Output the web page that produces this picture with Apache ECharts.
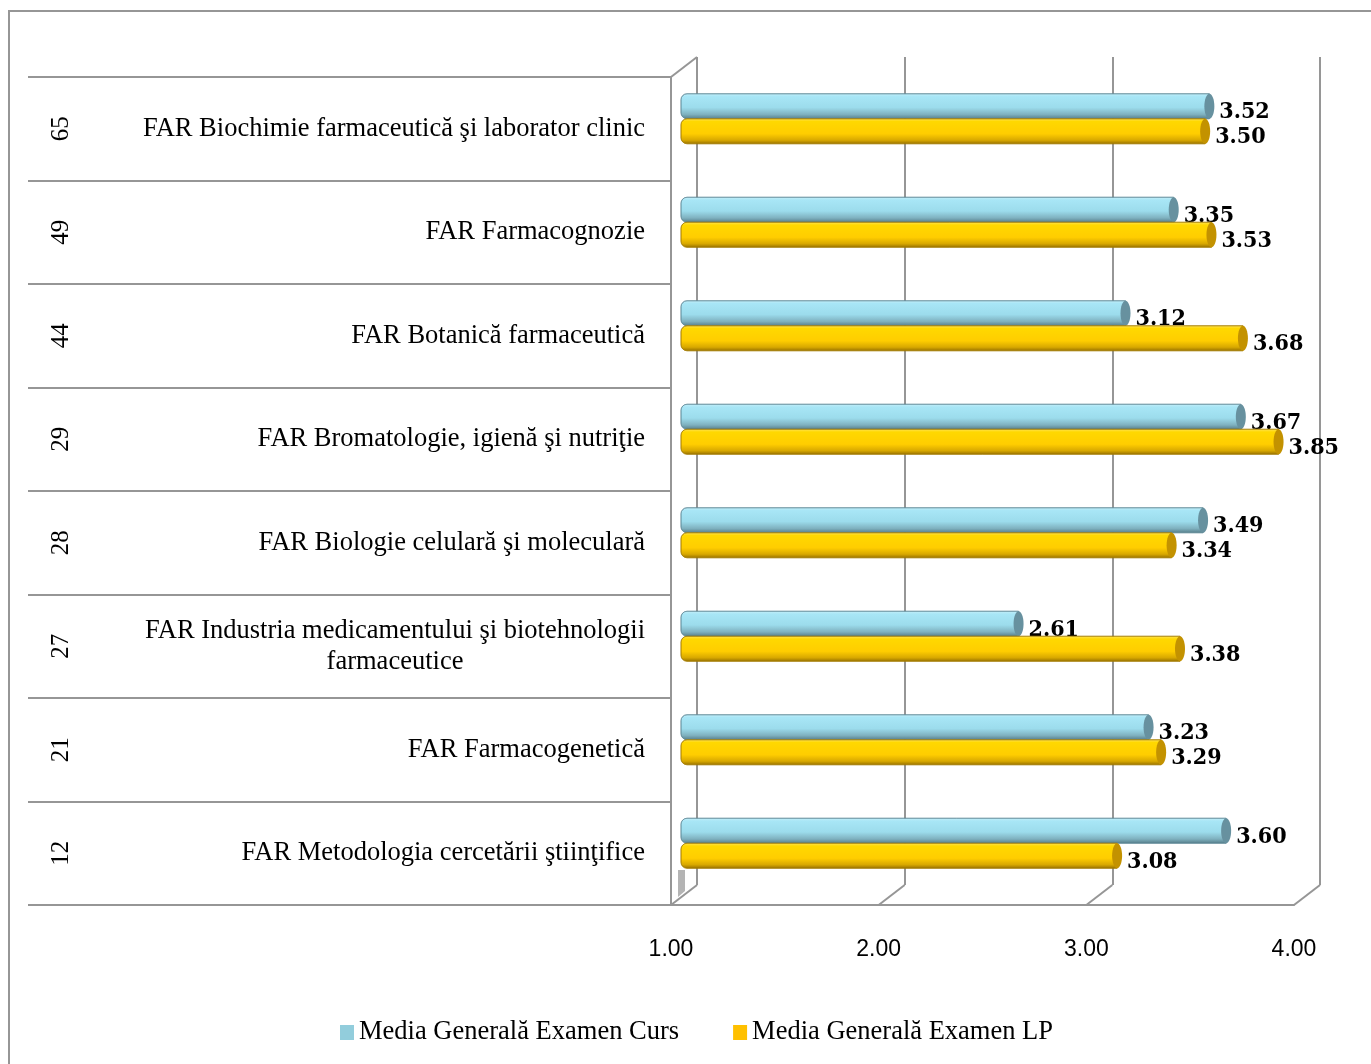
<!DOCTYPE html>
<html>
<head>
<meta charset="utf-8">
<script src="https://cdn.jsdelivr.net/npm/echarts@6/dist/echarts.min.js"></script>
<style>html,body{margin:0;padding:0;background:#fff;}#c{width:1371px;height:1064px;}</style>
</head>
<body>
<div id="c"></div>
<script>
const codes = ['65', '49', '44', '29', '28', '27', '21', '12'];
const subjects = [
  'FAR Biochimie farmaceutică şi laborator clinic',
  'FAR Farmacognozie',
  'FAR Botanică farmaceutică',
  'FAR Bromatologie, igienă şi nutriţie',
  'FAR Biologie celulară şi moleculară',
  'FAR Industria medicamentului şi biotehnologii\nfarmaceutice',
  'FAR Farmacogenetică',
  'FAR Metodologia cercetării ştiinţifice'
];
const mediaCurs = [3.52, 3.35, 3.12, 3.67, 3.49, 2.61, 3.23, 3.60];
const mediaLP = [3.50, 3.53, 3.68, 3.85, 3.34, 3.38, 3.29, 3.08];
const seriesNames = ['Media Generală Examen Curs', 'Media Generală Examen LP'];
const axisMin = 1, axisMax = 4, axisStep = 1;

const GRAY = '#969696';
const NAME_FONT_SIZE = 26.5;
const NAME_FONT = '"Liberation Serif", serif';
const palettes = [
  { legend: '#92CDDC', cap: '#67919f', edge: '#5d8795',
    stops: [[0, '#c6eff9'], [0.12, '#a8e6f6'], [0.55, '#9cdcec'], [0.82, '#7fb1bf'], [1, '#557c88']] },
  { legend: '#FFC000', cap: '#c39200', edge: '#a57c00',
    stops: [[0, '#ffe45a'], [0.12, '#ffd800'], [0.6, '#ffcd00'], [0.85, '#d8a800'], [1, '#967000']] }
];

function renderItem(params, api) {
  const s = params.seriesIndex;
  const v = api.value(0), i = api.value(1);
  const p0 = api.coord([axisMin, i]);
  const p1 = api.coord([v, i]);
  const h = 25;
  const cy = p1[1] + (s === 0 ? -h / 2 : h / 2);
  const x0 = p0[0], x1 = p1[0];
  const pal = palettes[s];
  return {
    type: 'group',
    children: [
      { type: 'rect', shape: { x: x0, y: cy - h / 2, width: x1 - x0, height: h, r: [6, 0, 0, 6] },
        style: { fill: { type: 'linear', x: 0, y: 0, x2: 0, y2: 1,
          colorStops: pal.stops.map(st => ({ offset: st[0], color: st[1] })) },
          stroke: pal.edge, lineWidth: 0.6 } },
      { type: 'ellipse', shape: { cx: x1, cy: cy, rx: 5, ry: h / 2 },
        style: { fill: pal.cap } },
      { type: 'text', style: { text: v.toFixed(2), x: x1 + 10, y: cy + 6, align: 'left', verticalAlign: 'middle',
        font: 'bold 23px "DejaVu Serif Condensed", "DejaVu Serif", serif', fill: '#000' } }
    ]
  };
}

// measure first line of multi-line labels so the block stays right-aligned while lines are centred
const measureCtx = document.createElement('canvas').getContext('2d');
measureCtx.font = NAME_FONT_SIZE + 'px ' + NAME_FONT;
const nameData = subjects.map(n => {
  if (n.indexOf('\n') < 0) return n;
  const w = Math.max.apply(null, n.split('\n').map(l => measureCtx.measureText(l).width));
  return { value: n, textStyle: { align: 'center', padding: [6, w, 0, 0], lineHeight: 31 } };
});

const chart = echarts.init(document.getElementById('c'), null, { renderer: 'canvas' });
const option = {
  animation: false,
  backgroundColor: '#fff',
  grid: [
    { left: 681, top: 67, width: 629, height: 828 },
    { left: 697, top: 57, width: 623, height: 828 },
    { left: 671, top: 77, width: 623, height: 828 }
  ],
  xAxis: [
    { type: 'value', gridIndex: 0, min: axisMin, max: axisMax, interval: axisStep, show: false },
    { type: 'value', gridIndex: 1, min: axisMin, max: axisMax, interval: axisStep,
      axisLine: { show: false }, axisTick: { show: false }, axisLabel: { show: false },
      splitLine: { show: true, lineStyle: { color: GRAY, width: 2 } } },
    { type: 'value', gridIndex: 2, min: axisMin, max: axisMax, interval: axisStep,
      axisLine: { show: true, lineStyle: { color: GRAY, width: 2 } },
      axisTick: { show: false }, splitLine: { show: false },
      axisLabel: { formatter: v => v.toFixed(2), margin: 33, color: '#000', fontSize: 23,
        fontFamily: '"Liberation Sans Narrow", "Liberation Sans", sans-serif' } }
  ],
  yAxis: [
    { type: 'category', gridIndex: 0, data: codes, inverse: true, show: false },
    { type: 'category', gridIndex: 1, data: codes, inverse: true, show: false },
    { type: 'category', gridIndex: 2, data: nameData, inverse: true, position: 'left',
      axisLine: { show: true, lineStyle: { color: GRAY, width: 2 } },
      axisTick: { show: true, length: 643, lineStyle: { color: GRAY, width: 2 } },
      splitLine: { show: false },
      axisLabel: { margin: 26, color: '#000', fontSize: NAME_FONT_SIZE, fontFamily: NAME_FONT, lineHeight: 31,
        padding: [10, 0, 0, 0] } },
    { type: 'category', gridIndex: 2, data: codes, inverse: true, position: 'left',
      axisLine: { show: false }, axisTick: { show: false }, splitLine: { show: false },
      axisLabel: { rotate: 90, margin: 597, color: '#000', fontSize: 25, fontFamily: NAME_FONT } }
  ],
  legend: {
    left: 340, top: 1019, padding: 0, itemWidth: 14, itemHeight: 15, itemGap: 54,
    textStyle: { color: '#000', fontSize: 26.5, fontFamily: NAME_FONT },
    data: [{ name: seriesNames[0], icon: 'rect' }, { name: seriesNames[1], icon: 'rect' }]
  },
  series: [
    { name: seriesNames[0], type: 'custom', xAxisIndex: 0, yAxisIndex: 0, renderItem,
      itemStyle: { color: palettes[0].legend }, encode: { x: 0, y: 1 },
      data: mediaCurs.map((v, i) => [v, i]) },
    { name: seriesNames[1], type: 'custom', xAxisIndex: 0, yAxisIndex: 0, renderItem,
      itemStyle: { color: palettes[1].legend }, encode: { x: 0, y: 1 },
      data: mediaLP.map((v, i) => [v, i]) }
  ]
};
chart.setOption(option);

// 3D frame: floor diagonals and left wall edges, positioned from the axes
const ticks = [];
for (let t = axisMin; t <= axisMax; t += axisStep) ticks.push(t);
const g2 = chart.getModel().getComponent('grid', 2).coordinateSystem.getRect();
const g1 = chart.getModel().getComponent('grid', 1).coordinateSystem.getRect();
const lines = [];
ticks.forEach(t => {
  const xf = chart.convertToPixel({ xAxisIndex: 2 }, t);
  const xb = chart.convertToPixel({ xAxisIndex: 1 }, t);
  lines.push({ type: 'line', shape: { x1: xf, y1: g2.y + g2.height, x2: xb, y2: g1.y + g1.height },
    style: { stroke: GRAY, lineWidth: 2 }, z: 10 });
});
lines.push({ type: 'line', shape: { x1: g2.x, y1: g2.y, x2: g1.x, y2: g1.y },
  style: { stroke: GRAY, lineWidth: 2 }, z: 10 });
lines.push({ type: 'polygon', shape: { points: [[g2.x + 7, g1.y + g1.height - 15], [g2.x + 14, g1.y + g1.height - 15], [g2.x + 14, g1.y + g1.height + 6], [g2.x + 7, g1.y + g1.height + 12]] },
  style: { fill: '#b4b4b4' }, z: 1 });
lines.push({ type: 'rect', shape: { x: 9, y: 11, width: 1400, height: 1100 },
  style: { fill: 'none', stroke: GRAY, lineWidth: 2 }, z: 0 });
chart.setOption({ graphic: lines });
</script>
</body>
</html>
